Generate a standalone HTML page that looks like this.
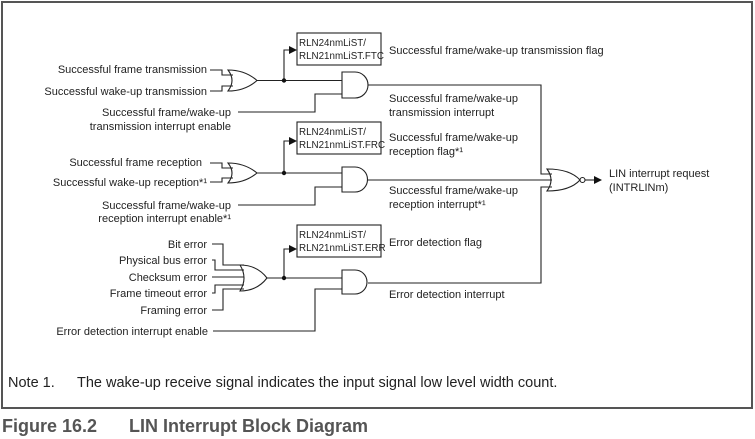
<!DOCTYPE html>
<html><head><meta charset="utf-8"><style>
html,body{margin:0;padding:0;background:#fff;width:755px;height:439px;overflow:hidden}
svg{display:block}
text{font-family:"Liberation Sans",Arial,sans-serif;fill:#222}
</style></head><body>
<svg width="755" height="439" viewBox="0 0 755 439" xmlns="http://www.w3.org/2000/svg">
<defs><marker id="a" markerWidth="8" markerHeight="8" refX="7" refY="4" orient="auto" markerUnits="userSpaceOnUse"><path d="M0,0 L8,4 L0,8z" fill="#111"/></marker></defs>
<rect x="2" y="2" width="750" height="406" fill="none" stroke="#555" stroke-width="2"/>
<g fill="none" stroke="#222" stroke-width="1.1">
<path d="M210,70 H222 V75 H233 M210,91 H222 V86 H233"/>
<path d="M228,70 Q245,70 257,80.5 Q245,91 228,91 Q236,80.5 228,70z"/>
<path d="M257,80.5 H342 M284,80.5 V50 H296" marker-end="url(#a)"/>
<path d="M342,72 H355 A13,13 0 0 1 355,98 H342z"/>
<path d="M368,85 H541 V174 H552"/>
<path d="M238,112 H315 V94 H342"/>
<path d="M210,163 H222 V168 H233 M210,182 H222 V178 H233"/>
<path d="M228,163 Q245,163 257,173 Q245,183 228,183 Q236,173 228,163z"/>
<path d="M257,173 H342 M284,173 V141 H296" marker-end="url(#a)"/>
<path d="M342,167 H355 A12.5,12.5 0 0 1 355,192 H342z"/>
<path d="M368,180 H552"/>
<path d="M238,205 H315 V187 H342"/>
<path d="M212,244 H223 V265 H244 M212,260 H215 V270 H244 M212,277 H244 M212,293 H215 V285 H244 M212,310 H223 V289 H244"/>
<path d="M240,265 Q257,265 267,278 Q257,291 240,291 Q248,278 240,265z"/>
<path d="M267,278 H342 M284,278 V249 H296" marker-end="url(#a)"/>
<path d="M342,270 H355 A12,12 0 0 1 355,294 H342z"/>
<path d="M368,283 H541 V187 H552"/>
<path d="M213,331 H315 V289 H342"/>
<path d="M547,169 Q570,169 580,180 Q570,191 547,191 Q555,180 547,169z"/>
<circle cx="582.5" cy="180" r="2.5"/>
<path d="M585,180 H601" marker-end="url(#a)"/>
<rect x="297" y="33" width="84" height="32"/>
<rect x="297" y="122" width="84" height="32"/>
<rect x="297" y="225" width="84" height="32"/>
</g>
<circle cx="284" cy="80.5" r="2.2" fill="#111"/>
<circle cx="284" cy="173" r="2.2" fill="#111"/>
<circle cx="284" cy="278" r="2.2" fill="#111"/>
<g font-size="9.8">
<text x="299" y="46">RLN24nmLiST/</text><text x="299" y="59">RLN21nmLiST.FTC</text>
<text x="299" y="135">RLN24nmLiST/</text><text x="299" y="148">RLN21nmLiST.FRC</text>
<text x="299" y="238">RLN24nmLiST/</text><text x="299" y="251">RLN21nmLiST.ERR</text>
</g>
<g font-size="11" text-anchor="end">
<text x="207" y="73">Successful frame transmission</text>
<text x="207" y="95">Successful wake-up transmission</text>
<text x="231" y="116">Successful frame/wake-up</text>
<text x="231" y="130">transmission interrupt enable</text>
<text x="202" y="166">Successful frame reception</text>
<text x="207" y="186">Successful wake-up reception*¹</text>
<text x="231" y="209">Successful frame/wake-up</text>
<text x="231" y="222">reception interrupt enable*¹</text>
<text x="207" y="248">Bit error</text>
<text x="207" y="264">Physical bus error</text>
<text x="207" y="281">Checksum error</text>
<text x="207" y="297">Frame timeout error</text>
<text x="207" y="314">Framing error</text>
<text x="208" y="335">Error detection interrupt enable</text>
</g>
<g font-size="11">
<text x="389" y="54">Successful frame/wake-up transmission flag</text>
<text x="389" y="102">Successful frame/wake-up</text>
<text x="389" y="116">transmission interrupt</text>
<text x="389" y="141">Successful frame/wake-up</text>
<text x="389" y="155">reception flag*¹</text>
<text x="389" y="194">Successful frame/wake-up</text>
<text x="389" y="208">reception interrupt*¹</text>
<text x="389" y="246">Error detection flag</text>
<text x="389" y="298">Error detection interrupt</text>
<text x="609" y="177">LIN interrupt request</text>
<text x="609" y="191">(INTRLINm)</text>
</g>
<text x="8" y="387" font-size="14.5">Note 1.</text>
<text x="77" y="387" font-size="14.5">The wake-up receive signal indicates the input signal low level width count.</text>
<text x="2" y="432" font-size="18" font-weight="bold" style="fill:#555">Figure 16.2</text>
<text x="129" y="432" font-size="18" font-weight="bold" style="fill:#555">LIN Interrupt Block Diagram</text>
</svg>
</body></html>
